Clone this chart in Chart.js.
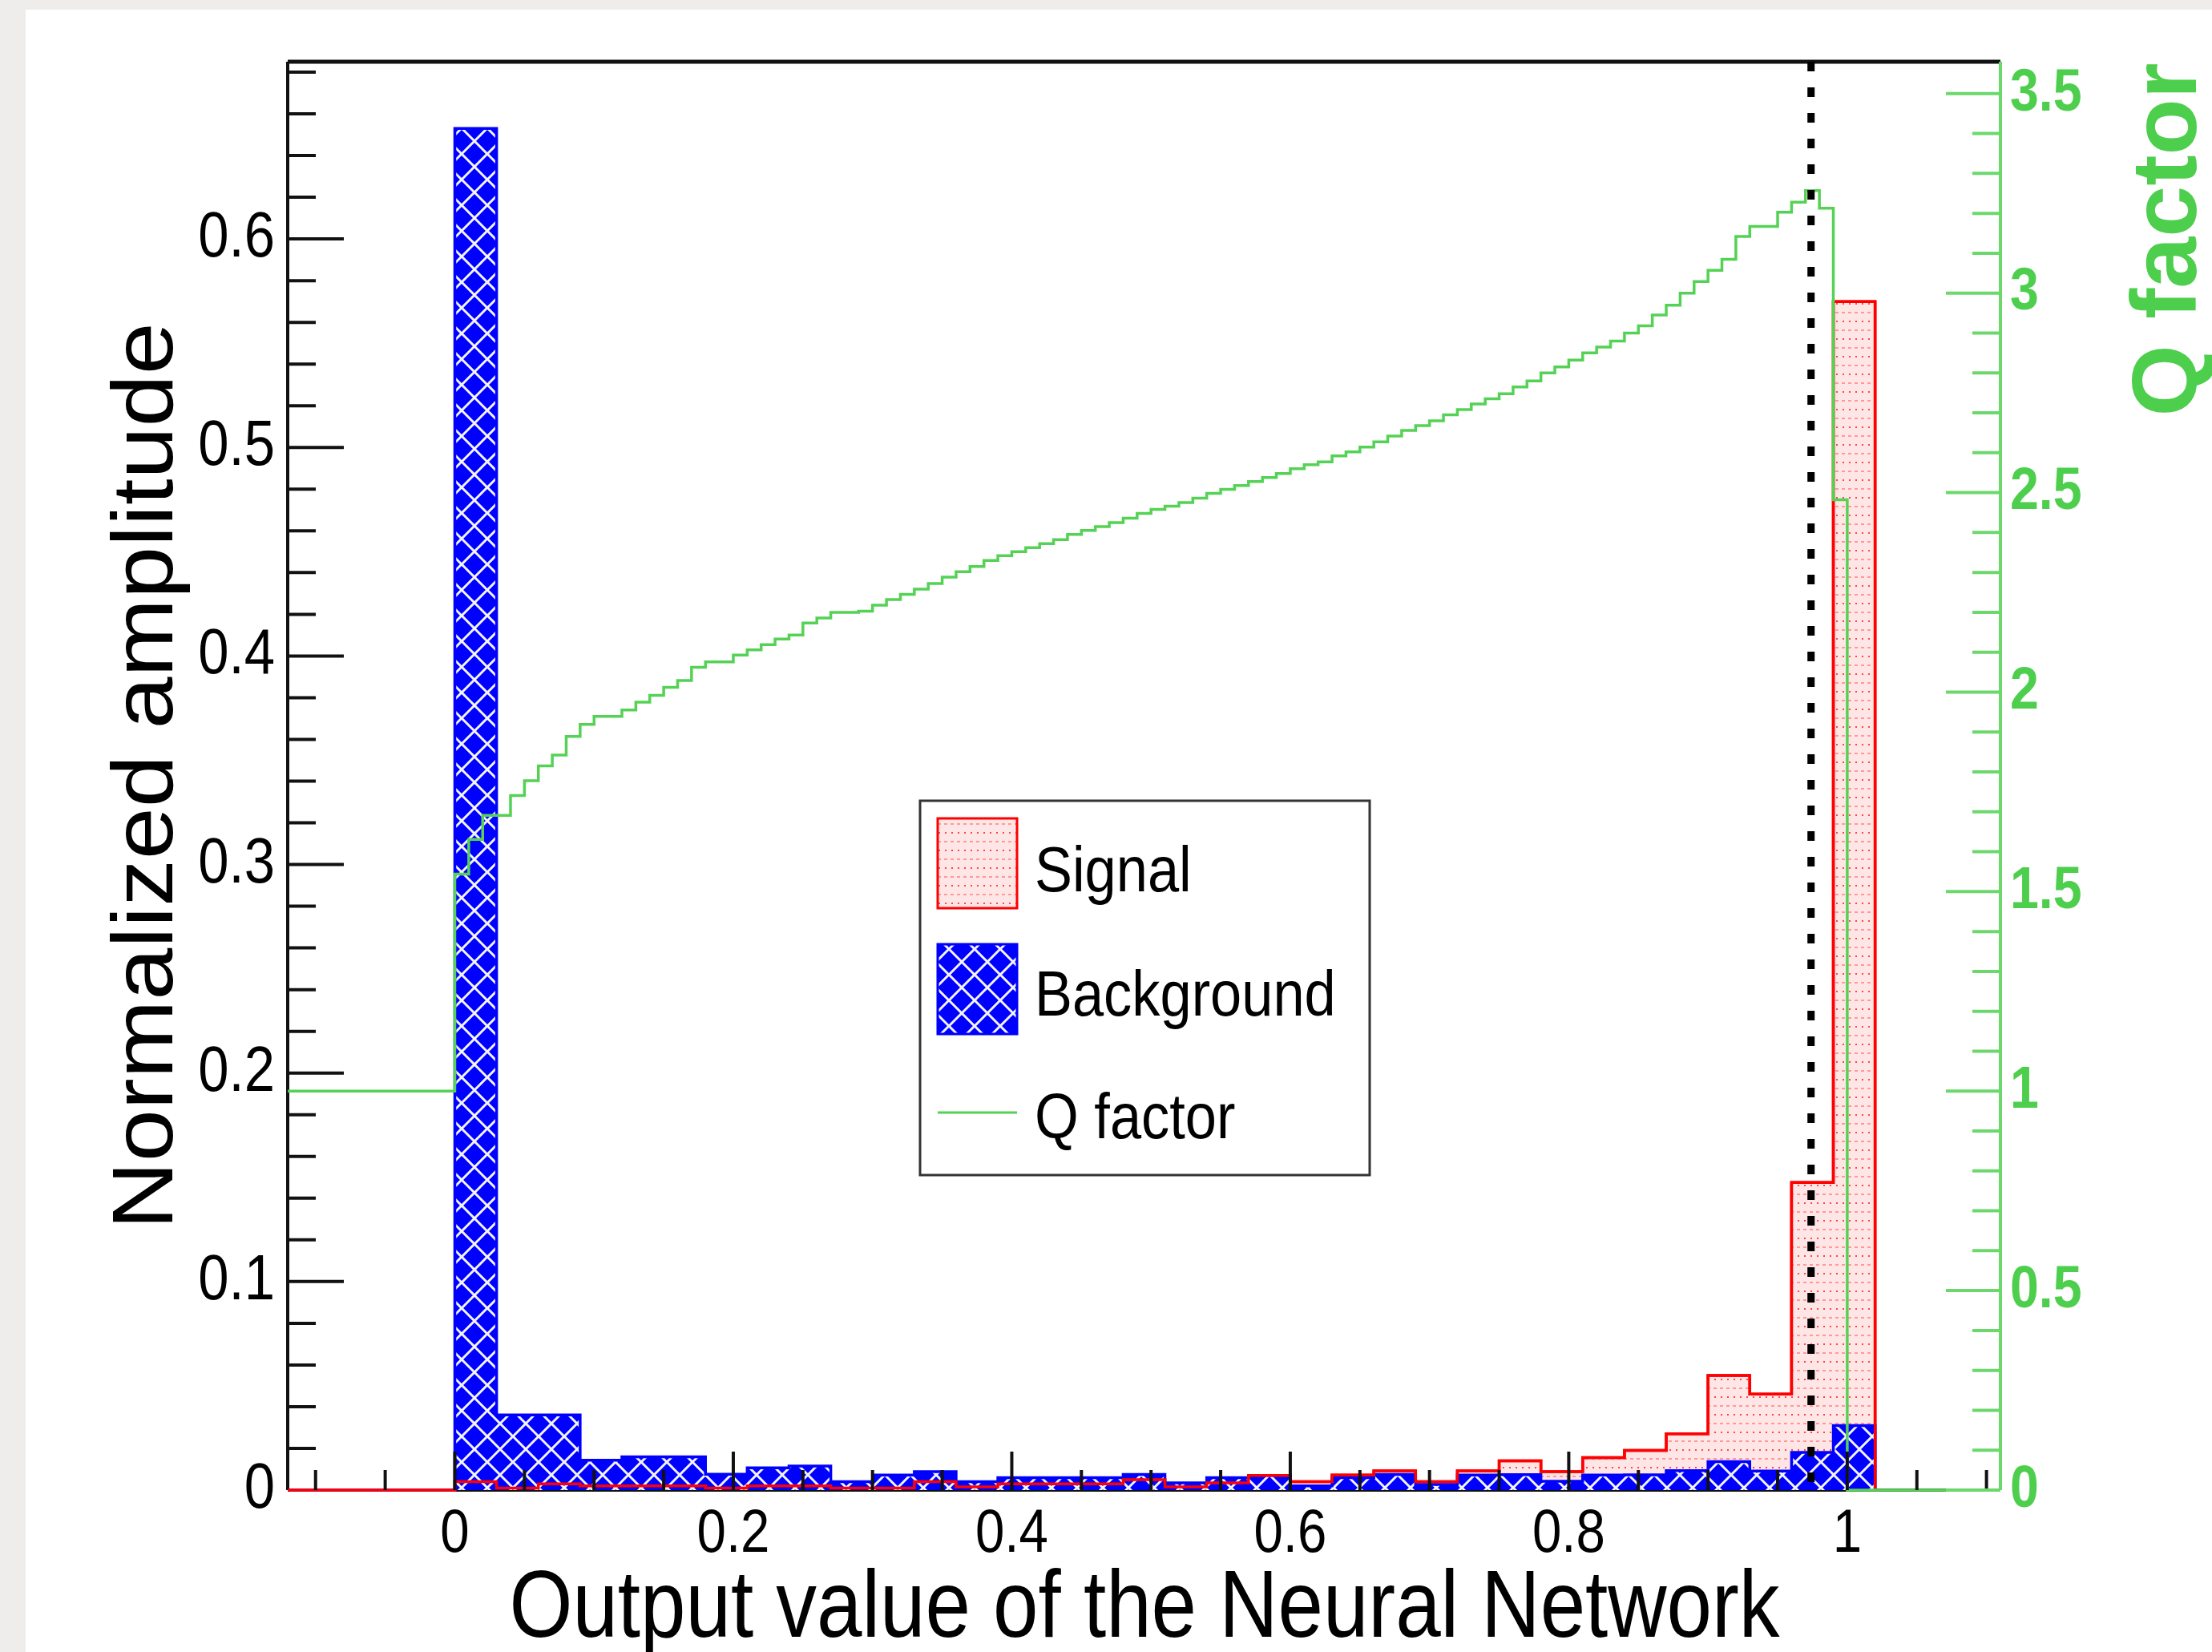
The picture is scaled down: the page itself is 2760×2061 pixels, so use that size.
<!DOCTYPE html>
<html>
<head>
<meta charset="utf-8">
<title>Output value of the Neural Network</title>
<script src="https://cdn.jsdelivr.net/npm/chart.js@4.4.1/dist/chart.umd.min.js"></script>
<style>
  html, body { margin: 0; padding: 0; background: #eeedeb; }
  #wrap { position: absolute; left: 0; top: 0; width: 2760px; height: 2061px; }
</style>
</head>
<body>
<div id="wrap"><canvas id="chart" width="2760" height="2061"></canvas></div>
<script>
// x range of the frame and histogram binning
const xMin = -0.12;
const xMax = 1.11;
const histBinWidth = 0.03;   // signal / background bins start at 0
const qBinWidth = 0.01;      // Q factor bins start at 0

// Normalized amplitude per bin (0.00-0.03, 0.03-0.06, ... 0.99-1.02)
const signal = [0.004, 0.001, 0.003, 0.002, 0.002, 0.002, 0.001, 0.002, 0.002, 0.001,
  0.001, 0.004, 0.0015, 0.003, 0.003, 0.003, 0.005, 0.0015, 0.0035, 0.007,
  0.004, 0.0072, 0.0092, 0.004, 0.0092, 0.014, 0.0088, 0.0156, 0.019, 0.027,
  0.055, 0.046, 0.1475, 0.570];
const background = [0.653, 0.036, 0.036, 0.0143, 0.016, 0.016, 0.0076, 0.0107, 0.0115, 0.004,
  0.0072, 0.0088, 0.004, 0.006, 0.006, 0.006, 0.0075, 0.0035, 0.006, 0.007,
  0.002, 0.006, 0.0075, 0.0027, 0.0072, 0.0074, 0.0042, 0.0072, 0.0073, 0.0093,
  0.0136, 0.0091, 0.0181, 0.0309];

// Q factor per cut bin (0.00, 0.01, ... 0.99), 1 below zero and 0 above one
const qBelowZero = 1;
const qAboveOne = 0;
const qFactor = [1.544, 1.631, 1.691, 1.691, 1.741, 1.778, 1.815, 1.842, 1.889, 1.919,
  1.939, 1.939, 1.955, 1.975, 1.992, 2.012, 2.029, 2.062, 2.076, 2.076,
  2.093, 2.106, 2.119, 2.133, 2.143, 2.173, 2.186, 2.200, 2.200, 2.203,
  2.218, 2.232, 2.245, 2.258, 2.272, 2.288, 2.302, 2.315, 2.330, 2.342,
  2.352, 2.362, 2.372, 2.382, 2.395, 2.405, 2.415, 2.425, 2.436, 2.448,
  2.458, 2.466, 2.475, 2.486, 2.498, 2.508, 2.518, 2.528, 2.538, 2.548,
  2.560, 2.570, 2.577, 2.592, 2.602, 2.614, 2.627, 2.642, 2.656, 2.668,
  2.680, 2.695, 2.708, 2.722, 2.735, 2.748, 2.765, 2.780, 2.800, 2.815,
  2.832, 2.850, 2.865, 2.880, 2.900, 2.918, 2.945, 2.970, 3.000, 3.029,
  3.057, 3.085, 3.142, 3.167, 3.167, 3.203, 3.228, 3.257, 3.213, 2.482];

const cutValue = 0.974;

// axis ticks
const xMajorTicks = [0, 0.2, 0.4, 0.6, 0.8, 1];
const xTickLabels = ['0', '0.2', '0.4', '0.6', '0.8', '1'];
const yMajorTicks = [0, 0.1, 0.2, 0.3, 0.4, 0.5, 0.6];
const yTickLabels = ['0', '0.1', '0.2', '0.3', '0.4', '0.5', '0.6'];
const qMajorTicks = [0, 0.5, 1, 1.5, 2, 2.5, 3, 3.5];
const qTickLabels = ['0', '0.5', '1', '1.5', '2', '2.5', '3', '3.5'];

const FONT = '"Liberation Sans", Arial, Helvetica, sans-serif';
const RED = '#ff0000';
const BLUE = '#0000ff';
const GREEN = '#55d255';
const GREEN_TEXT = '#4dcf4d';
const GREEN_AXIS = '#6cd86c';

const canvas = document.getElementById('chart');
const ctx = canvas.getContext('2d');

// ROOT style fill patterns
function makeBluePattern() {
  const c = document.createElement('canvas');
  c.width = 32; c.height = 32;
  const g = c.getContext('2d');
  g.fillStyle = BLUE;
  g.fillRect(0, 0, 32, 32);
  g.strokeStyle = '#f4f4ff';
  g.lineWidth = 3;
  g.beginPath();
  for (let k = -1; k <= 1; k++) {
    g.moveTo(-10, -10 + 32 * k); g.lineTo(42, 42 + 32 * k);
    g.moveTo(-10, 42 + 32 * k); g.lineTo(42, -10 + 32 * k);
  }
  g.stroke();
  return ctx.createPattern(c, 'repeat');
}

function makeRedPattern() {
  const c = document.createElement('canvas');
  c.width = 8; c.height = 22;
  const g = c.getContext('2d');
  g.fillStyle = '#ffe6e6';
  g.fillRect(0, 0, 8, 22);
  g.fillStyle = 'rgba(255,30,30,0.8)';
  g.fillRect(3, 4, 2, 2);
  g.fillStyle = 'rgba(255,60,60,0.45)';
  g.fillRect(2, 15, 4, 2);
  return ctx.createPattern(c, 'repeat');
}

const bluePattern = makeBluePattern();
const redPattern = makeRedPattern();

function histPoints(values, width) {
  const pts = [{ x: xMin, y: 0 }];
  values.forEach((v, i) => pts.push({ x: i * width, y: v }));
  pts.push({ x: values.length * width, y: 0 });
  return pts;
}

function qPoints() {
  const pts = [{ x: xMin, y: qBelowZero }];
  qFactor.forEach((v, i) => pts.push({ x: i * qBinWidth, y: v }));
  pts.push({ x: qFactor.length * qBinWidth, y: qAboveOne });
  pts.push({ x: xMax, y: qAboveOne });
  return pts;
}

// text is a bit condensed in the original picture
function drawText(c, text, x, y, o) {
  c.save();
  c.translate(x, y);
  if (o.rotate) {
    c.rotate(-Math.PI / 2);
    c.scale(1, o.squish || 1);
  } else {
    c.scale(o.squish || 1, 1);
  }
  c.font = o.font;
  c.fillStyle = o.color || '#000';
  c.textAlign = o.align || 'left';
  c.textBaseline = o.baseline || 'alphabetic';
  c.fillText(text, 0, 0);
  c.restore();
}

function line(c, x1, y1, x2, y2) {
  c.beginPath();
  c.moveTo(x1, y1);
  c.lineTo(x2, y2);
  c.stroke();
}

const rootFrame = {
  id: 'rootFrame',
  beforeDraw(chart) {
    const c = chart.ctx;
    c.save();
    c.fillStyle = '#eeedeb';
    c.fillRect(0, 0, chart.width, chart.height);
    c.fillStyle = '#ffffff';
    c.fillRect(32, 12, chart.width - 32, chart.height - 12);
    c.restore();
  },
  beforeDatasetsDraw(chart) {
    // frame lines and left ticks sit under the histograms
    const c = chart.ctx;
    const a = chart.chartArea;
    const ys = chart.scales.y;
    c.save();
    c.strokeStyle = '#111';
    c.lineWidth = 5;
    line(c, a.left, a.top, a.right, a.top);
    c.lineWidth = 4;
    line(c, a.left, a.top, a.left, a.bottom);
    line(c, a.left, a.bottom, a.right, a.bottom);
    for (let v = 0; v <= 0.6801; v += 0.02) {
      const major = yMajorTicks.some(t => Math.abs(t - v) < 1e-6);
      const py = ys.getPixelForValue(v);
      line(c, a.left, py, a.left + (major ? 70 : 35), py);
    }
    c.strokeStyle = GREEN_AXIS;
    line(c, a.right, a.top, a.right, a.bottom);
    c.restore();
  },
  afterDatasetsDraw(chart) {
    // dashed line at the chosen cut
    const c = chart.ctx;
    const a = chart.chartArea;
    const x = chart.scales.x.getPixelForValue(cutValue);
    c.save();
    c.strokeStyle = '#000';
    c.lineWidth = 9;
    c.setLineDash([12, 20]);
    line(c, x, a.top, x, a.bottom);
    c.restore();
  },
  afterDraw(chart) {
    const c = chart.ctx;
    const a = chart.chartArea;
    const xs = chart.scales.x, ys = chart.scales.y, qs = chart.scales.yQ;
    c.save();

    // x ticks
    c.strokeStyle = '#111';
    c.lineWidth = 4;
    for (let v = -0.1; v <= 1.1001; v += 0.05) {
      const major = xMajorTicks.some(t => Math.abs(t - v) < 1e-6);
      const px = xs.getPixelForValue(v);
      line(c, px, a.bottom, px, a.bottom - (major ? 48 : 25));
    }
    xMajorTicks.forEach((v, i) => {
      drawText(c, xTickLabels[i], xs.getPixelForValue(v), 1936,
        { font: '76px ' + FONT, align: 'center', squish: 0.86 });
    });

    yMajorTicks.forEach((v, i) => {
      drawText(c, yTickLabels[i], a.left - 16, ys.getPixelForValue(v), {
        font: '80px ' + FONT, align: 'right', baseline: 'middle', squish: 0.86 });
    });

    // right Q axis ticks
    c.strokeStyle = GREEN_AXIS;
    c.lineWidth = 4;
    for (let v = 0; v <= 3.5001; v += 0.1) {
      const major = qMajorTicks.some(t => Math.abs(t - v) < 1e-6);
      const py = qs.getPixelForValue(v);
      line(c, a.right, py, a.right - (major ? 68 : 35), py);
    }
    qMajorTicks.forEach((v, i) => {
      drawText(c, qTickLabels[i], a.right + 12, qs.getPixelForValue(v), {
        font: 'bold 75px ' + FONT, align: 'left', baseline: 'middle', squish: 0.86, color: GREEN_TEXT });
    });

    // axis titles
    drawText(c, 'Output value of the Neural Network', 1428, 2042,
      { font: '118px ' + FONT, align: 'center', squish: 0.86 });
    drawText(c, 'Normalized amplitude', 215, 968,
      { font: '117px ' + FONT, align: 'center', rotate: true, squish: 0.92 });
    drawText(c, 'Q factor', 2740, 299,
      { font: 'bold 115px ' + FONT, align: 'center', rotate: true, squish: 1, color: GREEN_TEXT });

    // legend
    c.fillStyle = '#fff';
    c.fillRect(1148, 999, 561, 467);
    c.strokeStyle = '#333';
    c.lineWidth = 3;
    c.strokeRect(1148, 999, 561, 467);

    c.fillStyle = redPattern;
    c.fillRect(1170, 1021, 99, 112);
    c.strokeStyle = RED;
    c.lineWidth = 3;
    c.strokeRect(1170, 1021, 99, 112);

    c.fillStyle = bluePattern;
    c.fillRect(1170, 1178, 99, 112);
    c.strokeStyle = BLUE;
    c.strokeRect(1170, 1178, 99, 112);

    c.strokeStyle = GREEN;
    c.lineWidth = 3;
    line(c, 1170, 1388, 1269, 1388);

    const lf = '80px ' + FONT;
    drawText(c, 'Signal', 1291, 1112, { font: lf, squish: 0.88 });
    drawText(c, 'Background', 1291, 1267, { font: lf, squish: 0.88 });
    drawText(c, 'Q factor', 1291, 1420, { font: lf, squish: 0.88 });

    c.restore();
  }
};

new Chart(ctx, {
  type: 'line',
  data: {
    datasets: [
      {
        label: 'Q factor',
        data: qPoints(),
        yAxisID: 'yQ',
        stepped: 'before',
        borderColor: GREEN,
        borderWidth: 3.5,
        pointRadius: 0,
        fill: false,
        clip: 8,
        order: 0
      },
      {
        label: 'Signal outline',
        data: histPoints(signal, histBinWidth),
        yAxisID: 'y',
        stepped: 'before',
        borderColor: RED,
        borderWidth: 3.5,
        pointRadius: 0,
        fill: false,
        clip: 8,
        order: 1
      },
      {
        label: 'Background',
        data: histPoints(background, histBinWidth),
        yAxisID: 'y',
        stepped: 'before',
        borderColor: BLUE,
        borderWidth: 3.5,
        backgroundColor: bluePattern,
        pointRadius: 0,
        fill: 'origin',
        clip: 8,
        order: 2
      },
      {
        label: 'Signal',
        data: histPoints(signal, histBinWidth),
        yAxisID: 'y',
        stepped: 'before',
        borderColor: RED,
        borderWidth: 3.5,
        backgroundColor: redPattern,
        pointRadius: 0,
        fill: 'origin',
        clip: 8,
        order: 3
      }
    ]
  },
  options: {
    responsive: false,
    animation: false,
    devicePixelRatio: 1,
    layout: { padding: { left: 359, right: 264, top: 77, bottom: 202 } },
    scales: {
      x: { type: 'linear', min: xMin, max: xMax, display: false },
      y: { type: 'linear', min: 0, max: 0.685, display: false },
      yQ: { type: 'linear', position: 'right', min: 0, max: 3.58, display: false }
    },
    plugins: {
      legend: { display: false },
      tooltip: { enabled: false }
    }
  },
  plugins: [rootFrame]
});
</script>
</body>
</html>
